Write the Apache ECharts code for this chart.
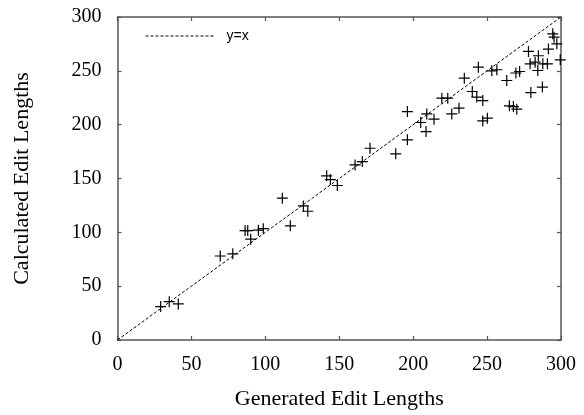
<!DOCTYPE html>
<html>
<head>
<meta charset="utf-8">
<script src="https://cdn.jsdelivr.net/npm/echarts@6/dist/echarts.min.js"></script>
<style>html,body{margin:0;padding:0;background:#fff}#c{width:584px;height:415px}</style>
</head>
<body>
<div id="c"></div>
<script>
var xTicks = [0, 50, 100, 150, 200, 250, 300];
var yTicks = [0, 50, 100, 150, 200, 250, 300];
var generated = [29.2,35,41.1,69.5,78,86.3,88.1,90.1,95.3,98.6,111.5,116.9,125.7,128.7,141.5,144,148.7,160.7,165.6,170.8,188.2,196.1,196.1,205.1,208.7,209.2,214.1,219.4,223.4,226.1,231,234.6,240,243,244.1,247.1,247.1,250.2,253.2,256.6,263.3,265.1,267.8,270.1,269.5,272,278,279.6,279.1,282.5,284.3,284.7,287.7,290.8,287.4,291.5,294.4,295.3,297.2,299.5];
var calculated = [31,35.6,33.5,78,80,101.6,101.6,93.6,102,103.4,131.7,106,124.5,119.6,152.5,149,143.5,162.6,165.7,178.1,172.9,185.9,212.2,202,193.6,210,205.1,224.6,224.6,210,215.3,243.2,230.8,225.6,253.4,222.4,203.5,206,250,251,241,217.5,216.8,214.4,248,249.4,268,229.8,256.5,258,250.3,264,256.5,256.5,234.9,270.2,284.4,281.3,275.1,260.2];
var refLineX = [0, 300];
var refLineY = [0, 300];

var pts = generated.map(function (x, i) { return [x, calculated[i]]; });
var refPts = refLineX.map(function (x, i) { return [x, refLineY[i]]; });

var axisCol = '#555';
var serif = 'Liberation Serif, Times New Roman, serif';
var chart = echarts.init(document.getElementById('c'), null, {renderer: 'canvas'});
function axis(extra) {
  return Object.assign({
    type: 'value', min: 0, max: 300, interval: 50,
    axisLine: {show: true, onZero: false, lineStyle: {color: axisCol, width: 1.5}},
    axisTick: {show: true, inside: true, length: 4, lineStyle: {color: axisCol, width: 1.2}},
    splitLine: {show: false}
  }, extra);
}
chart.setOption({
  animation: false,
  grid: {left: 117.5, right: 23, top: 17, bottom: 75, containLabel: false},
  legend: {
    show: true,
    data: [{name: 'y=x'}], left: 140, top: 24, itemWidth: 68, itemHeight: 14,
    itemStyle: {opacity: 0},
    lineStyle: {width: 1, type: [3, 2], color: '#000'},
    textStyle: {fontFamily: 'Liberation Sans, Arial, sans-serif', fontSize: 14, color: '#000', padding: [0, 0, 0, 8]}
  },
  xAxis: [
    axis({
      position: 'bottom',
      name: 'Generated Edit Lengths', nameLocation: 'middle', nameGap: 48,
      nameTextStyle: {fontFamily: serif, fontSize: 22, color: '#000'},
      axisLabel: {margin: 15, fontFamily: serif, fontSize: 20, color: '#000',
        formatter: function (v) { return xTicks.indexOf(v) >= 0 ? String(v) : ''; }}
    }),
    axis({position: 'top', axisLabel: {show: false}})
  ],
  yAxis: [
    axis({
      position: 'left',
      name: 'Calculated Edit Lengths', nameLocation: 'middle', nameGap: 84, nameRotate: 90,
      nameTextStyle: {fontFamily: serif, fontSize: 22, color: '#000'},
      axisLabel: {margin: 16, fontFamily: serif, fontSize: 20, color: '#000',
        formatter: function (v) { return yTicks.indexOf(v) >= 0 ? String(v) : ''; }}
    }),
    axis({position: 'right', axisLabel: {show: false}})
  ],
  series: [
    {
      name: 'y=x', type: 'line', data: refPts, symbol: 'none', silent: true,
      lineStyle: {color: '#000', width: 1, type: [3, 2]}, itemStyle: {color: '#000'}, z: 2
    },
    {
      name: 'points', type: 'scatter', data: pts, symbol: 'path://M0,5.5L11,5.5M5.5,0L5.5,11', symbolSize: 11,
      itemStyle: {color: 'none', borderColor: '#000', borderWidth: 1.2, opacity: 1}, z: 3
    }
  ]
});
</script>
</body>
</html>
